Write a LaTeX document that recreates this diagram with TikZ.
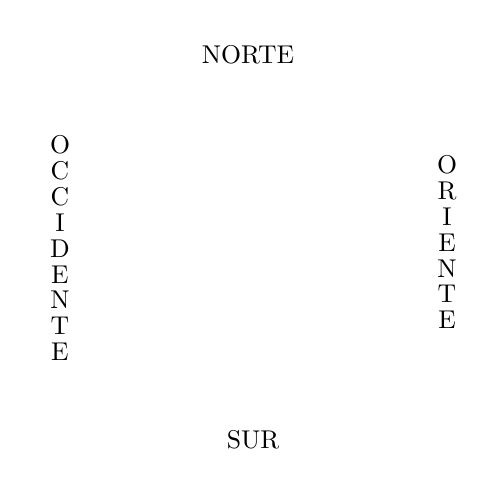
\documentclass[tikz,border=0pt]{standalone}
\begin{document}
\begin{tikzpicture}[x=1pt,y=1pt,
  lbl/.style={inner sep=0pt, scale=2.57, transform shape, font=\fontsize{10}{10.1}\selectfont, align=center}]
\useasboundingbox (0,0) rectangle (500,500);
\node[lbl] (n) at (248,445) {NORTE};
\node[lbl] (s) at (253,60) {SUR};
\node[lbl] (w) at (60,252) {O\\C\\C\\I\\D\\E\\N\\T\\E};
\node[lbl] (e) at (447,258) {O\\R\\I\\E\\N\\T\\E};
\end{tikzpicture}
\end{document}
